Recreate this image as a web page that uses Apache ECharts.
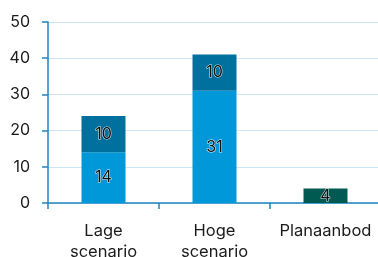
<!DOCTYPE html>
<html>
<head>
<meta charset="utf-8">
<script src="https://cdn.jsdelivr.net/npm/echarts@6/dist/echarts.min.js"></script>
<style>
    html, body { margin: 0; padding: 0; background: #fff; }
    #chart { width: 378px; height: 257px; }
</style>
</head>
<body>
<div id="chart"></div>
<script>
    // categories and values
    var categories = ['Lage\nscenario', 'Hoge\nscenario', 'Planaanbod'];
    var basis = [14, 31, null];
    var extra = [10, 10, null];
    var plan = [null, null, 4];
    var yTicks = [0, 10, 20, 30, 40, 50];

    var labelStyle = {
        show: true,
        position: 'inside',
        color: '#111',
        fontSize: 16,
        fontFamily: 'Inter',
        textBorderColor: 'rgba(255,255,255,0.85)',
        textBorderWidth: 1
    };

    var chart = echarts.init(document.getElementById('chart'));
    chart.setOption({
        animation: false,
        grid: { left: 48, top: 22, width: 333, height: 181, containLabel: false, outerBoundsMode: 'none' },
        xAxis: {
            type: 'category',
            data: categories,
            axisLine: { lineStyle: { color: '#1f86bd', width: 1.5 } },
            axisTick: { show: true, length: 6, lineStyle: { color: '#1f86bd', width: 1.5 } },
            axisLabel: { interval: 0, color: '#1a1a1a', fontSize: 16.5, fontFamily: 'Inter', margin: 18, lineHeight: 21 }
        },
        yAxis: {
            type: 'value',
            min: yTicks[0],
            max: yTicks[yTicks.length - 1],
            interval: 10,
            axisLine: { show: true, lineStyle: { color: '#1f86bd', width: 1.5 } },
            axisTick: { show: true, length: 6, lineStyle: { color: '#1f86bd', width: 1.5 } },
            axisLabel: { color: '#1a1a1a', fontSize: 16, fontFamily: 'Inter', margin: 18 },
            splitLine: { lineStyle: { color: '#cbe6f6', width: 1 } }
        },
        series: [
            { name: 'basis', type: 'bar', stack: 'a', data: basis, barWidth: 44,
              itemStyle: { color: '#0098d9' }, label: labelStyle },
            { name: 'extra', type: 'bar', stack: 'a', data: extra,
              itemStyle: { color: '#00709f' }, label: labelStyle },
            { name: 'plan', type: 'bar', stack: 'a', data: plan,
              itemStyle: { color: '#005a52' }, label: labelStyle }
        ]
    });
</script>
</body>
</html>
